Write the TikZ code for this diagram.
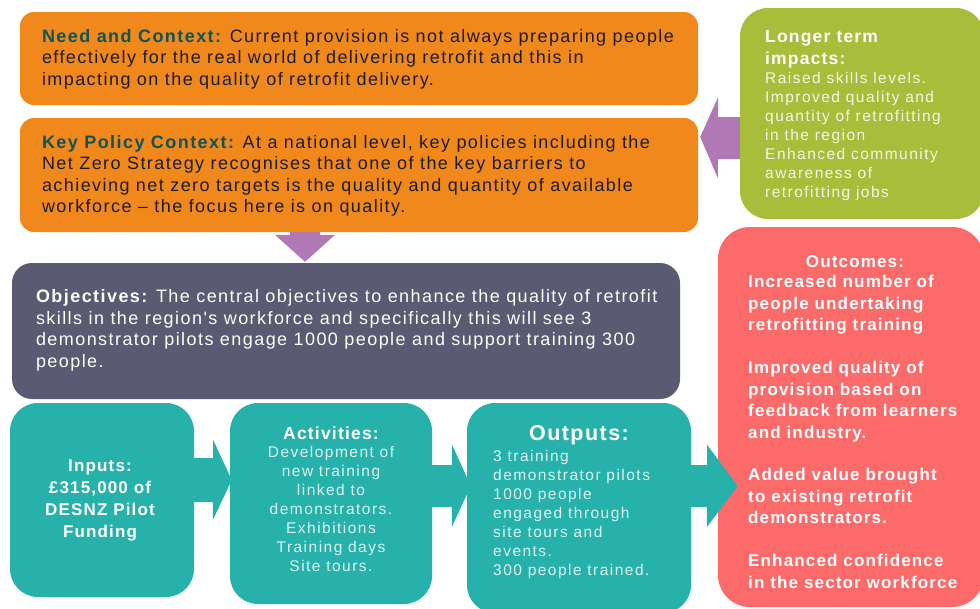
\documentclass[tikz,border=0pt]{standalone}
\usepackage{fontspec}
\setmainfont{Liberation Sans}
\newfontfamily\bodyfont[LetterSpace=6.8]{Liberation Sans}
\newfontfamily\widefont[LetterSpace=8]{Liberation Sans}
\newfontfamily\thinfont[LetterSpace=9.5]{Liberation Sans}
\usetikzlibrary{calc,backgrounds}

\definecolor{orangebox}{RGB}{240,136,27}
\definecolor{headteal}{RGB}{14,84,84}
\definecolor{inkblack}{RGB}{28,28,28}
\definecolor{purplearrow}{RGB}{176,120,180}
\definecolor{greenbox}{RGB}{168,189,58}
\definecolor{slatebox}{RGB}{90,90,114}
\definecolor{tealbox}{RGB}{38,178,170}
\definecolor{redbox}{RGB}{252,106,106}

\tikzset{
  panel/.style={rounded corners=#1, inner sep=0pt},
  panel/.default=28,
  darktext/.style={font=\widefont\fontsize{18}{21.6}\selectfont, text=inkblack, align=left, inner sep=0pt},
  whitetext/.style={font=\bodyfont\bfseries\fontsize{17}{21.5}\selectfont, text=white, inner sep=0pt},
  thintext/.style={font=\thinfont\fontsize{15.5}{19}\selectfont, inner sep=0pt}
}

\begin{document}
\begin{tikzpicture}[x=1pt,y=-1pt]
\useasboundingbox (0,0) rectangle (980,608);
% Context boxes
\node[panel=14, fill=orangebox, minimum width=678, minimum height=93] (need) at (359,58.5) {};
\node[darktext, anchor=west] (needtxt) at ($(need.west)+(22,0.5)$)
  {\textcolor{headteal}{\bfseries Need and Context:} Current provision is not always preparing people\\
   effectively for the real world of delivering retrofit and this in\\
   impacting on the quality of retrofit delivery.};
\node[panel=14, fill=orangebox, minimum width=678, minimum height=114] (policy) at (359,175) {};
\node[darktext, anchor=west] (policytxt) at ($(policy.west)+(22,0.75)$)
  {\textcolor{headteal}{\bfseries Key Policy Context:} At a national level, key policies including the\\
   Net Zero Strategy recognises that one of the key barriers to\\
   achieving net zero targets is the quality and quantity of available\\
   workforce – the focus here is on quality.};
% Impacts box
\node[panel, fill=greenbox, minimum width=244, minimum height=211] (impacts) at (862,113.5) {};
\node[whitetext, font=\bodyfont\bfseries\fontsize{17.5}{22}\selectfont, align=left, anchor=west] (impactshead) at (765,49)
  {Longer term\\impacts:};
\node[thintext, text=white!90!greenbox, align=left, anchor=west] (impactsbody) at (765,136)
  {Raised skills levels.\\
   Improved quality and\\
   quantity of retrofitting\\
   in the region\\
   Enhanced community\\
   awareness of\\
   retrofitting jobs};
% Objectives box
\node[panel=20, fill=slatebox, minimum width=668, minimum height=136] (objectives) at (346,331) {};
\node[darktext, text=white, anchor=west] (objectivestxt) at ($(objectives.west)+(24,-0.5)$)
  {{\bfseries Objectives:} The central objectives to enhance the quality of retrofit\\
   skills in the region's workforce and specifically this will see 3\\
   demonstrator pilots engage 1000 people and support training 300\\
   people.};
% Bottom row
\node[panel, fill=tealbox, minimum width=184, minimum height=194] (inputs) at (102,500) {};
\node[whitetext, font=\bodyfont\bfseries\fontsize{17}{22}\selectfont, align=center] (inputstxt) at ($(inputs.center)+(-2,0)$)
  {Inputs:\\£315,000 of\\DESNZ Pilot\\Funding};
\node[panel, fill=tealbox, minimum width=202, minimum height=201] (activities) at (331,503.5) {};
\node[whitetext, font=\bodyfont\bfseries\fontsize{17.5}{21}\selectfont] (activitieshead) at ($(activities.north)+(0,30)$) {Activities:};
\node[thintext, text=white!85!tealbox, align=center] (activitiesbody) at ($(activities.center)+(0,5.5)$)
  {Development of\\
   new training\\
   linked to\\
   demonstrators.\\
   Exhibitions\\
   Training days\\
   Site tours.};
\node[panel, fill=tealbox, minimum width=224, minimum height=210] (outputs) at (579,508) {};
\node[whitetext, font=\bodyfont\bfseries\fontsize{21.5}{24}\selectfont] (outputshead) at ($(outputs.north)+(0,32)$) {Outputs:};
\node[thintext, text=white!85!tealbox, align=left, anchor=west] (outputsbody) at (493,514.5)
  {3 training\\
   demonstrator pilots\\
   1000 people\\
   engaged through\\
   site tours and\\
   events.\\
   300 people trained.};
% Outcomes box
\node[panel=32, fill=redbox, minimum width=266, minimum height=380] (outcomes) at (851,417) {};
\node[whitetext] (outcomeshead) at (855,262) {Outcomes:};
\node[whitetext, align=left, anchor=west] (outcomesbody) at (748,432)
  {Increased number of\\
   people undertaking\\
   retrofitting training\\[21.3pt]
   Improved quality of\\
   provision based on\\
   feedback from learners\\
   and industry.\\[21.3pt]
   Added value brought\\
   to existing retrofit\\
   demonstrators.\\[21.3pt]
   Enhanced confidence\\
   in the sector workforce};
% Block arrows behind the boxes
\begin{scope}[on background layer]
\fill[white] (0,0) rectangle (980,608);
\fill[purplearrow] ($(objectives.north)+(-41,-1)$) -- ++(-30,-27) -- ++(15,0) -- ++(0,-15)
  -- ++(30,0) -- ++(0,15) -- ++(15,0) -- cycle;
\fill[purplearrow] ($(policy.east)+(2,-38)$) -- ++(18,-40) -- ++(0,20) -- ($(impacts.west)+(5,3.5)$)
  -- ++(0,42) -- ++(-27,0) -- ++(0,19) -- cycle;
\fill[tealbox] ($(inputs.east)+(-4,-42)$) -- ++(23,0) -- ++(0,-18) -- ($(activities.west)+(2,-23.5)$)
  -- ++(-19,40) -- ++(0,-18) -- ++(-23,0) -- cycle;
\fill[tealbox] ($(activities.east)+(-4,-38.5)$) -- ++(24,0) -- ++(0,-20) -- ($(outputs.west)+(4,-22)$)
  -- ++(-19,41) -- ++(0,-20) -- ++(-24,0) -- cycle;
\end{scope}
% Arrow into the outcomes
\fill[tealbox] ($(outputs.east)+(0,-43)$) -- ++(16,0) -- ++(0,-20) -- ($(outcomes.west)+(20,69)$)
  -- ++(-31,41) -- ++(0,-20) -- ++(-16,0) -- cycle;
\end{tikzpicture}
\end{document}
